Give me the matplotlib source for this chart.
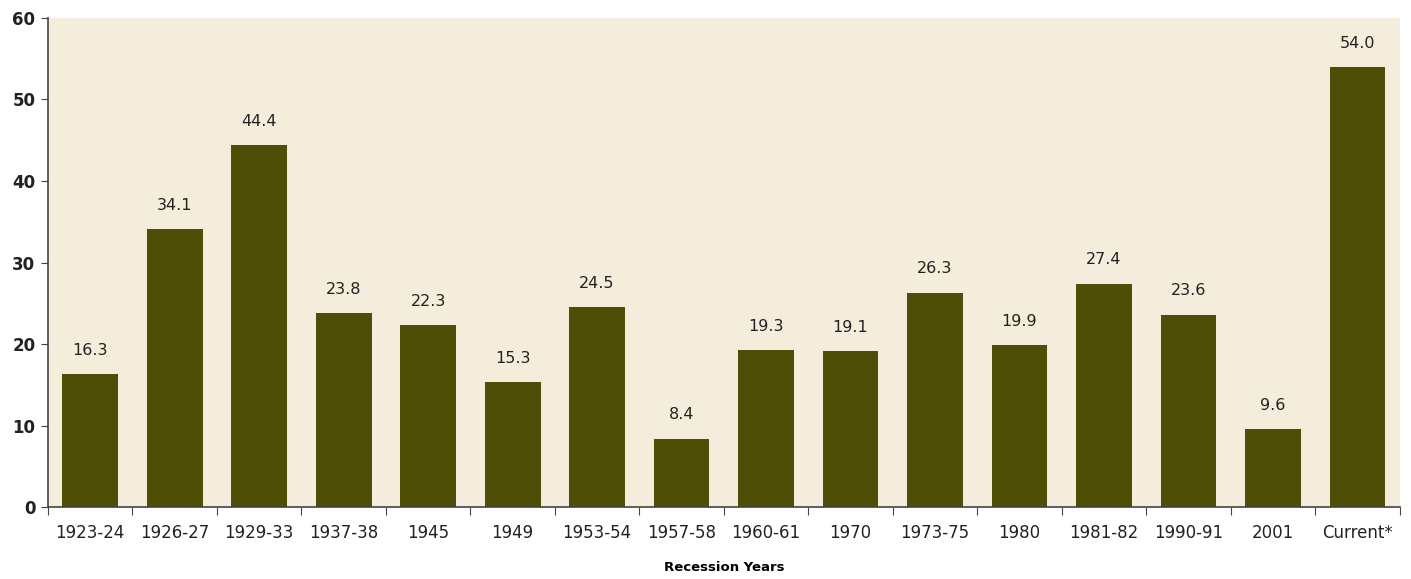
import numpy as np
from matplotlib import pyplot as plt

years = ["1923-24", "1926-27", "1929-33", "1937-38", "1945", "1949", "1953-54",
         "1957-58", "1960-61", "1970", "1973-75", "1980", "1981-82", "1990-91",
         "2001", "Current*"]
values = [16.3, 34.1, 44.4, 23.8, 22.3, 15.3, 24.5, 8.4, 19.3, 19.1, 26.3,
          19.9, 27.4, 23.6, 9.6, 54.0]

bar_color = "#4e4f06"
bg_color = "#f4eddb"

plt.rcParams['font.family'] = ['DejaVu Sans']

fig = plt.figure(figsize=(14.11, 5.79), dpi=100)
ax = fig.add_axes([0.034, 0.124, 0.958, 0.845])
ax.set_facecolor(bg_color)

x = np.arange(len(years))
ax.bar(x, values, width=0.66, color=bar_color, zorder=2)

for xi, v in zip(x, values):
    ax.text(xi, v + 2.0, f"{v:.1f}", ha="center", va="bottom", fontsize=11.5,
            color="#222222")

ax.set_xlim(-0.5, len(years) - 0.5)
ax.set_ylim(0, 60)
ax.set_yticks(range(0, 61, 10))
ax.tick_params(axis="y", labelsize=12, length=5, color="#444444", pad=4)
for lab in ax.get_yticklabels():
    lab.set_fontweight("bold")
    lab.set_color("#222222")

# ticks sit on the category boundaries, labels in the middle
ax.set_xticks(np.arange(-0.5, len(years), 1.0))
ax.set_xticklabels([])
ax.tick_params(axis="x", which="major", length=6, color="#444444")
ax.set_xticks(x, minor=True)
ax.set_xticklabels(years, minor=True, fontsize=12, color="#222222")
ax.tick_params(axis="x", which="minor", length=0, pad=12)

for s in ["top", "right"]:
    ax.spines[s].set_visible(False)
for s in ["left", "bottom"]:
    ax.spines[s].set_color("#444444")
    ax.spines[s].set_linewidth(1.2)

ax.set_xlabel("Recession Years", fontsize=9.5, fontweight="bold", labelpad=14)

fig.savefig("out.png", dpi=100, facecolor="white")
